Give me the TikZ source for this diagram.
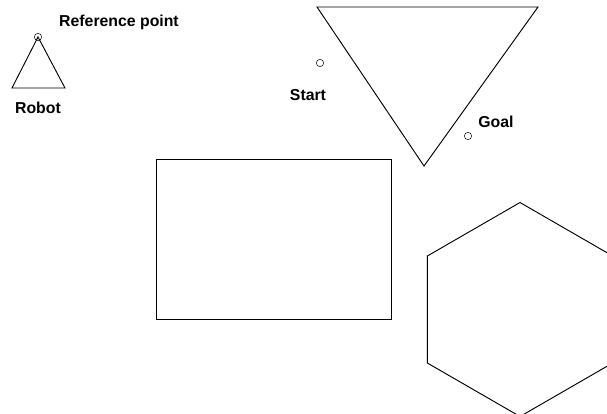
\documentclass[tikz,border=0pt]{standalone}
\usepackage{fontspec}
\setmainfont{Liberation Sans}
\usepackage{tikz}
\usetikzlibrary{positioning, calc}

\begin{document}
\begin{tikzpicture}[x=0.03cm, y=-0.03cm,
          every node/.style={font=\fontsize{13.5}{16}\selectfont\bfseries},
          marker/.style={circle, draw, inner sep=0pt, minimum size=0.22cm},
          obstacle/.style={draw, line width=0.8pt, line join=miter}]
          \useasboundingbox (0,0) rectangle (607,414);
          \clip (0,0) rectangle (607,414);

          % robot
          \coordinate (apex) at (38,37);
          \coordinate (bl) at (12,88);
          \coordinate (br) at (65,88);
          \draw[obstacle] (apex) -- (bl) -- (br) -- cycle;
          \node[marker] (ref) at (apex) {};
          \node (reflabel) at (119,22) {Reference point};
          \node (robot) at (38,108) {Robot};

          % start and goal
          \node[marker] (start) at (320,63) {};
          \node (startlabel) at (308,95) {Start};
          \node[marker] (goal) at (468,136) {};
          \node (goallabel) at (496,122) {Goal};

          % obstacles
          \draw[obstacle] (317,7) -- (538,7) -- (424,166) -- cycle;
          \draw[obstacle] (156,159) rectangle (391,319);
          \draw[obstacle] (520,309.5) ++(90:107) -- ++(210:107) -- ++(270:107)
                -- ++(330:107) -- ++(30:107) -- ++(90:107) -- cycle;
        \end{tikzpicture}
\end{document}
